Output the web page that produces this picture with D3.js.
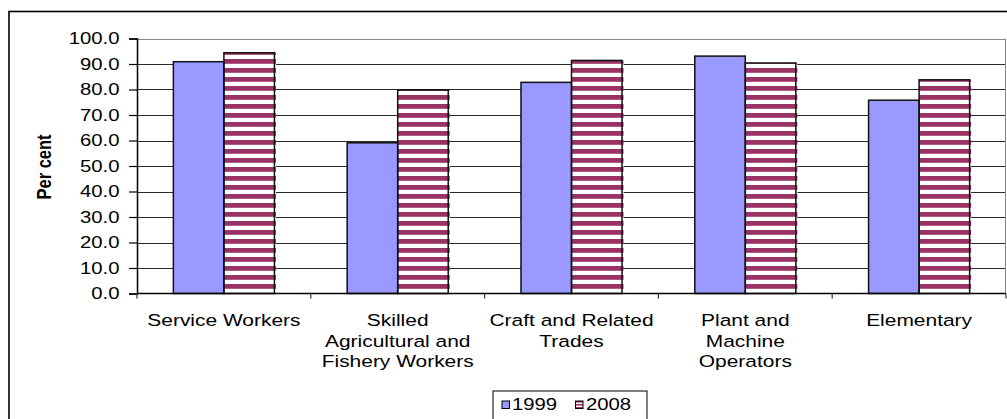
<!DOCTYPE html>
<html>
<head>
<meta charset="utf-8">
<script src="https://cdn.jsdelivr.net/npm/d3@7/dist/d3.min.js"></script>
<style>
  html, body { margin: 0; padding: 0; background: #fff; }
  svg { display: block; }
  text { font-family: "Liberation Sans", Arial, sans-serif; fill: #000; }
</style>
</head>
<body>
<svg id="chart" width="1007" height="419"></svg>
<script>
const categories = [
  ["Service Workers"],
  ["Skilled", "Agricultural and", "Fishery Workers"],
  ["Craft and Related", "Trades"],
  ["Plant and", "Machine", "Operators"],
  ["Elementary"]
];
const seriesNames = ["1999", "2008"];
const values1999 = [90.9, 59.1, 82.8, 93.1, 75.8];
const values2008 = [94.4, 79.8, 91.4, 90.4, 83.8];
const yTicks = [0, 10, 20, 30, 40, 50, 60, 70, 80, 90, 100];
const yLabel = "Per cent";

const SX = 1.27; // horizontal text stretch seen in the reference
const colors = { "1999": "#9999FF", "2008": "#993366" };

const svg = d3.select("#chart");
const defs = svg.append("defs");
const pat = defs.append("pattern")
  .attr("id", "stripes")
  .attr("patternUnits", "userSpaceOnUse")
  .attr("x", 0).attr("y", 5)
  .attr("width", 9).attr("height", 9);
pat.append("rect").attr("width", 9).attr("height", 9).attr("fill", "#fff");
pat.append("rect").attr("width", 9).attr("height", 4.8).attr("fill", colors["2008"]);

const legPat = defs.append("pattern")
  .attr("id", "stripesSmall")
  .attr("patternUnits", "userSpaceOnUse")
  .attr("x", 0).attr("y", 401)
  .attr("width", 4).attr("height", 3);
legPat.append("rect").attr("width", 4).attr("height", 3).attr("fill", "#fff");
legPat.append("rect").attr("width", 4).attr("height", 1.6).attr("fill", colors["2008"]);

// outer frame
svg.append("rect")
  .attr("x", 9).attr("y", 11.5).attr("width", 1100).attr("height", 500)
  .attr("fill", "none").attr("stroke", "#000").attr("stroke-width", 1.6);

const plot = { left: 137, right: 1006, top: 38.5, bottom: 293.5 };

const x0 = d3.scaleBand()
  .domain(d3.range(categories.length))
  .range([plot.left, plot.right])
  .paddingInner(0).paddingOuter(0);

const x1 = d3.scaleBand()
  .domain(seriesNames)
  .range([0, x0.bandwidth()])
  .paddingInner(0).paddingOuter(0.72);

const y = d3.scaleLinear().domain([0, 100]).range([plot.bottom, plot.top]);

// gridlines
svg.append("g").selectAll("line")
  .data(yTicks.filter(t => t > 0))
  .join("line")
  .attr("x1", plot.left).attr("x2", plot.right)
  .attr("y1", d => Math.round(y(d)) + 0.5).attr("y2", d => Math.round(y(d)) + 0.5)
  .attr("stroke", d => d === 100 ? "#888" : "#2a2a2a")
  .attr("stroke-width", 1);

// right border of plot area
svg.append("line")
  .attr("x1", plot.right - 0.5).attr("x2", plot.right - 0.5)
  .attr("y1", plot.top).attr("y2", plot.bottom)
  .attr("stroke", "#888").attr("stroke-width", 1);

// bars
const data = [];
categories.forEach((c, i) => {
  data.push({ i, s: "1999", v: values1999[i] });
  data.push({ i, s: "2008", v: values2008[i] });
});

const bars = svg.append("g");
bars.selectAll("rect.fill")
  .data(data)
  .join("rect")
  .attr("class", "fill")
  .attr("x", d => x0(d.i) + x1(d.s))
  .attr("y", d => y(d.v))
  .attr("width", d => x1.bandwidth() + (d.s === "2008" ? 1.5 : 0))
  .attr("height", d => y(0) - y(d.v))
  .attr("fill", d => d.s === "1999" ? colors["1999"] : "url(#stripes)");

bars.selectAll("rect.outline")
  .data(data)
  .join("rect")
  .attr("class", "outline")
  .attr("x", d => x0(d.i) + x1(d.s))
  .attr("y", d => y(d.v))
  .attr("width", x1.bandwidth())
  .attr("height", d => y(0) - y(d.v))
  .attr("fill", "none")
  .attr("stroke", "#111")
  .attr("stroke-width", 1.5);

// y axis
const yAxis = d3.axisLeft(y).tickValues(yTicks).tickSize(8).tickFormat(d3.format(".1f"));
const gy = svg.append("g").attr("transform", `translate(${plot.left},0)`).call(yAxis);
gy.select(".domain").attr("stroke", "#000").attr("stroke-width", 1.5);
gy.selectAll(".tick line").attr("stroke", "#000").attr("stroke-width", 1.2);
gy.selectAll(".tick text").remove();
svg.append("g").selectAll("text")
  .data(yTicks)
  .join("text")
  .attr("transform", d => `translate(119.5,${y(d) + 5.8}) scale(${SX},1)`)
  .attr("text-anchor", "end")
  .attr("font-size", 16)
  .text(d => d3.format(".1f")(d));

// x axis
const gx = svg.append("g").attr("transform", `translate(0,${plot.bottom})`);
gx.append("line")
  .attr("x1", plot.left).attr("x2", plot.right)
  .attr("stroke", "#000").attr("stroke-width", 1.5);
const bounds = d3.range(categories.length + 1).map(i => i < categories.length ? x0(i) : plot.right);
gx.selectAll("line.tick")
  .data(bounds)
  .join("line")
  .attr("class", "tick")
  .attr("x1", d => d).attr("x2", d => d)
  .attr("y1", 0).attr("y2", 5)
  .attr("stroke", "#333").attr("stroke-width", 1.2);

// category labels
categories.forEach((lines, i) => {
  const cx = x0(i) + x0.bandwidth() / 2;
  lines.forEach((ln, j) => {
    svg.append("text")
      .attr("transform", `translate(${cx},${326 + j * 20.7}) scale(${SX},1)`)
      .attr("text-anchor", "middle")
      .attr("font-size", 16.5)
      .text(ln);
  });
});

// y label
svg.append("text")
  .attr("transform", `translate(51,167) scale(${SX},1) rotate(-90)`)
  .attr("text-anchor", "middle")
  .attr("font-size", 16.5)
  .attr("font-weight", "bold")
  .text(yLabel);

// legend
const leg = svg.append("g");
leg.append("rect")
  .attr("x", 493).attr("y", 391).attr("width", 154).attr("height", 40)
  .attr("fill", "#fff").attr("stroke", "#000").attr("stroke-width", 1);
const legX = [502, 575.5];
const legTextX = [512, 586];
seriesNames.forEach((s, k) => {
  leg.append("rect")
    .attr("x", legX[k]).attr("y", 401).attr("width", 7.5).attr("height", 7.5)
    .attr("fill", s === "1999" ? colors["1999"] : "url(#stripesSmall)")
    .attr("stroke", "#000").attr("stroke-width", 1);
  leg.append("text")
    .attr("transform", `translate(${legTextX[k]},410) scale(${SX},1)`)
    .attr("font-size", 16)
    .text(s);
});
</script>
</body>
</html>
